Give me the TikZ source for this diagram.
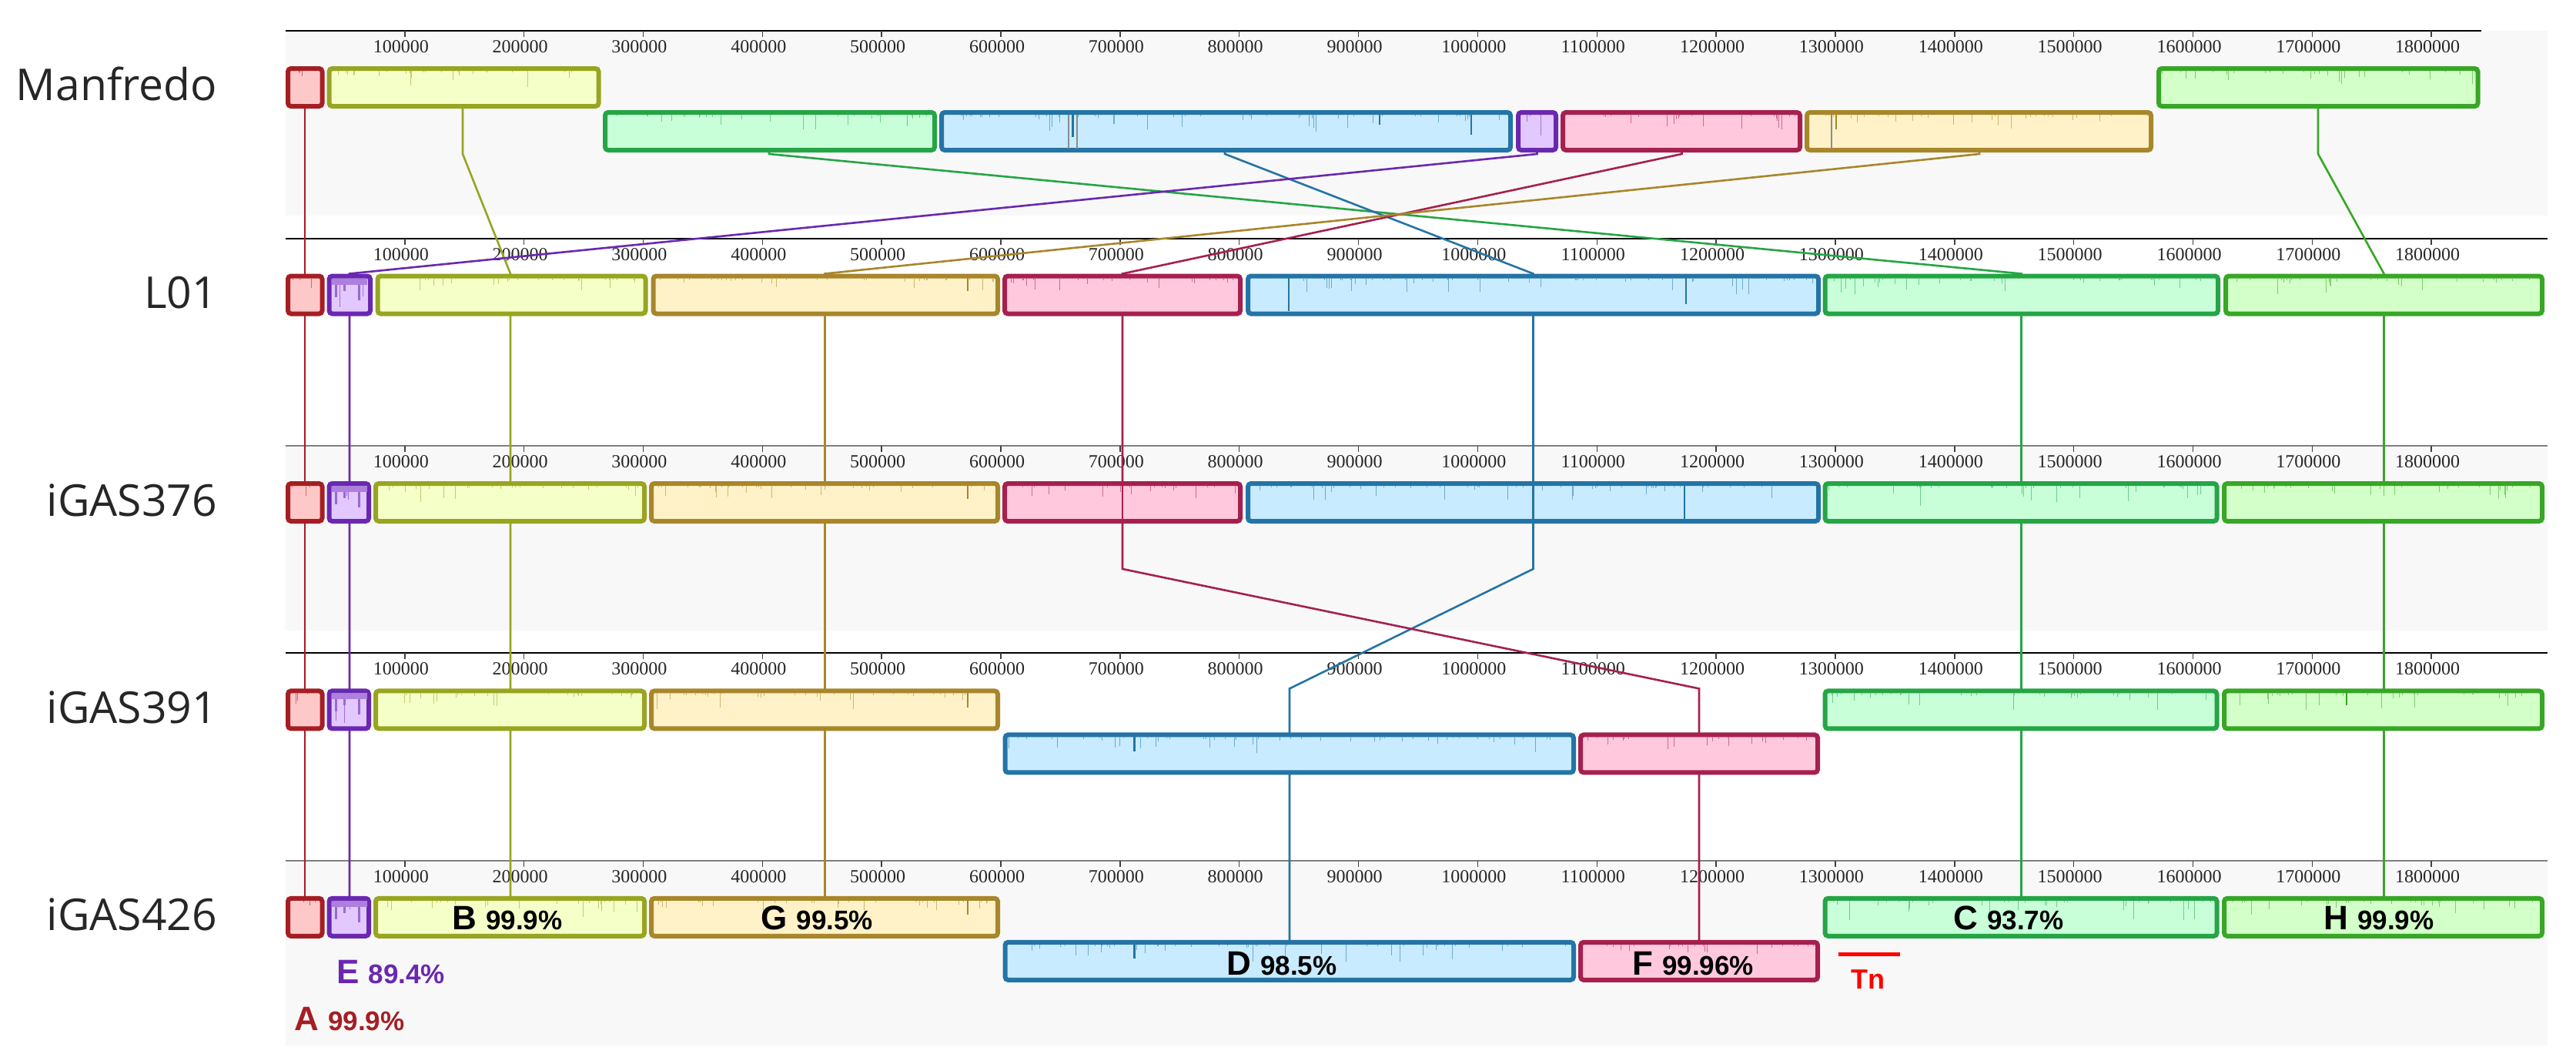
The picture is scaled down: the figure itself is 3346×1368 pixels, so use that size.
\documentclass[tikz,border=0pt]{standalone}
\usepackage{fontspec}
\setmainfont{Liberation Serif}
\newfontfamily\namefont{Open Sans}
\newfontfamily\labfont{Liberation Sans}
\definecolor{Abd}{HTML}{A51E23}\definecolor{Afl}{HTML}{FFC8C8}
\definecolor{Ebd}{HTML}{6A28B0}\definecolor{Efl}{HTML}{E2C8FF}
\definecolor{Bbd}{HTML}{97A521}\definecolor{Bfl}{HTML}{F5FFC8}
\definecolor{Gbd}{HTML}{A8862A}\definecolor{Gfl}{HTML}{FFF2C8}
\definecolor{Fbd}{HTML}{A5204F}\definecolor{Ffl}{HTML}{FFC8DC}
\definecolor{Dbd}{HTML}{2474A5}\definecolor{Dfl}{HTML}{C8EBFF}
\definecolor{Cbd}{HTML}{25A545}\definecolor{Cfl}{HTML}{C8FFD9}
\definecolor{Hbd}{HTML}{38A626}\definecolor{Hfl}{HTML}{D3FFC8}
\definecolor{panel}{HTML}{F8F8F8}
\definecolor{namecol}{HTML}{262626}
\definecolor{axgray}{HTML}{7F7F7F}
\newcommand\letf{\labfont\bfseries\fontsize{44}{44}\selectfont}
\newcommand\numf{\labfont\bfseries\fontsize{35}{35}\selectfont}
\newcommand\blockat[6]{%
  \pgfmathsetmacro\bw{#4-#3-6}%
  \pgfmathsetmacro\bcx{(#3+#4)/2}%
  \pgfmathsetmacro\bcy{#5+27.5}%
  \node[blk, draw=#2bd, fill=#2fl, minimum width=\bw pt, minimum height=49pt] (#1) at (\bcx,\bcy) {};
  \pgfmathtruncatemacro\nsp{(#4-#3)/14}%
  \foreach \k in {1,...,\nsp}{%
    \pgfmathsetmacro\sx{#3+7+rnd*(#4-#3-14)}%
    \pgfmathsetmacro\sl{2+rnd^4*#6}%
    \draw[#2bd!55!#2fl, line width=1pt] (\sx,#5+6) -- ++(0,\sl);
  }%
}
\newcommand\axisrow[4]{%
  \draw[#4, line width=2pt] (371,#2) -- (#3,#2);
  \foreach \k in {1,...,18}{%
    \pgfmathsetmacro\tx{370.9+\k*154.85}%
    \draw[black!75, line width=1.5pt] (\tx,#2) -- ++(0,8);
    \node[ticklab, anchor=base] (#1-\k) at (\tx-5,#2+28.5) {\k00000};
  }%
}
\begin{document}
\begin{tikzpicture}[x=1pt,y=-1pt,
  blk/.style={rectangle, rounded corners=4pt, line width=6pt, inner sep=0pt, outer sep=0pt},
  con/.style={line width=2.6pt},
  ticklab/.style={inner sep=0pt, font=\fontsize{24}{24}\selectfont, text=black!85},
  namelab/.style={inner sep=0pt, anchor=base east, text=namecol, font=\namefont\fontsize{57}{60}\selectfont},
  blklab/.style={inner sep=0pt, anchor=base west}]
\pgfmathsetseed{4242}
\useasboundingbox (0,0) rectangle (3346,1368);
\fill[white] (0,0) rectangle (3346,1368);
% panels
\fill[panel] (371,40) rectangle (3309,280);
\fill[panel] (371,579) rectangle (3309,819);
\fill[panel] (371,1117.8) rectangle (3309,1358);
% axes
\axisrow{am}{40}{3223}{black}
\axisrow{al}{309.5}{3309}{black}
\axisrow{as}{579}{3309}{axgray}
\axisrow{at}{848.4}{3309}{black}
\axisrow{au}{1117.8}{3309}{axgray}
% connector waypoints
\foreach \L/\xm/\xl/\xs/\xt/\xu/\ym/\yu in {
  A/396/396/396/396/396/90/1168,
  B/601/663/663/663/663/90/1168,
  C/999/2625.5/2625.5/2625.5/2625.5/148/1168,
  D/1591/1991.5/1991.5/1675/1675/148/1226,
  E/1996.5/454/454/454/454/148/1168,
  F/2184.5/1458/1458/2207/2207/148/1226,
  G/2571/1071.5/1071.5/1071.5/1071.5/148/1168,
  H/3011/3096.5/3096.5/3096.5/3096.5/90/1168}{
  \coordinate (m\L-t) at (\xm,\ym);
  \coordinate (m\L-b) at (\xm,200);
  \coordinate (l\L-t) at (\xl,355.5);
  \coordinate (l\L-b) at (\xl,469.5);
  \coordinate (s\L-t) at (\xs,625);
  \coordinate (s\L-b) at (\xs,739);
  \coordinate (t\L-t) at (\xt,894.4);
  \coordinate (t\L-b) at (\xt,1008.4);
  \coordinate (u\L-t) at (\xu,1163.8);
  \coordinate (u\L-e) at (\xu,\yu);
}
\foreach \L in {A,B,C,D,E,F,G,H}{
  \draw[con, \L bd] (m\L-t) -- (m\L-b) -- (l\L-t) -- (l\L-b) -- (s\L-t) -- (s\L-b)
     -- (t\L-t) -- (t\L-b) -- (u\L-t) -- (u\L-e);
}
% Manfredo blocks
\blockat{mA}{A}{371}{421.5}{86}{12}
\blockat{mB}{B}{424.5}{780.5}{86}{20}
\blockat{mH}{H}{2801}{3221.5}{86}{20}
\blockat{mC}{C}{783}{1217}{143}{25}
\blockat{mD}{D}{1220}{1965}{143}{20}
\blockat{mE}{E}{1969}{2024}{143}{30}
\blockat{mF}{F}{2027}{2341}{143}{20}
\blockat{mG}{G}{2344}{2797}{143}{20}
% L01 blocks
\blockat{lA}{A}{371}{421.5}{355.5}{12}
\blockat{lE}{E}{424.5}{484}{355.5}{38}
\blockat{lB}{B}{487.5}{841.5}{355.5}{20}
\blockat{lG}{G}{845.5}{1299}{355.5}{20}
\blockat{lF}{F}{1302}{1614}{355.5}{15}
\blockat{lD}{D}{1618}{2365}{355.5}{20}
\blockat{lC}{C}{2367.5}{2884}{355.5}{20}
\blockat{lH}{H}{2888}{3305}{355.5}{20}
% iGAS376 blocks
\blockat{sA}{A}{371}{421.5}{625}{12}
\blockat{sE}{E}{424.5}{482}{625}{38}
\blockat{sB}{B}{485}{840}{625}{20}
\blockat{sG}{G}{843}{1299}{625}{20}
\blockat{sF}{F}{1302}{1614}{625}{15}
\blockat{sD}{D}{1618}{2365}{625}{20}
\blockat{sC}{C}{2367.5}{2882.5}{625}{25}
\blockat{sH}{H}{2886}{3305}{625}{20}
% iGAS391 blocks
\blockat{tA}{A}{371}{421.5}{894.4}{12}
\blockat{tE}{E}{424.5}{482}{894.4}{38}
\blockat{tB}{B}{485}{840}{894.4}{20}
\blockat{tG}{G}{843}{1299}{894.4}{20}
\blockat{tC}{C}{2367.5}{2882.5}{894.4}{20}
\blockat{tH}{H}{2886}{3305}{894.4}{20}
\blockat{tD}{D}{1302.5}{2047}{951.4}{20}
\blockat{tF}{F}{2050}{2364}{951.4}{15}
% iGAS426 blocks
\blockat{uA}{A}{371}{421.5}{1163.8}{12}
\blockat{uE}{E}{424.5}{482}{1163.8}{38}
\blockat{uB}{B}{485}{840}{1163.8}{20}
\blockat{uG}{G}{843}{1299}{1163.8}{20}
\blockat{uC}{C}{2367.5}{2882.5}{1163.8}{25}
\blockat{uH}{H}{2886}{3305}{1163.8}{20}
\blockat{uD}{D}{1302.5}{2047}{1220.8}{20}
\blockat{uF}{F}{2050}{2364}{1220.8}{15}
% purple profile in E blocks
\foreach \yy in {355.5,625,894.4,1163.8}{
  \fill[Ebd!45!Efl] (431,\yy+6) rectangle (477,\yy+14);
  \draw[Ebd!60!Efl, line width=3pt] (436,\yy+14) -- (436,\yy+30) (447,\yy+14) -- (447,\yy+22) (466,\yy+14) -- (466,\yy+34);
}
% notable dips
\draw[black!45, line width=2pt] (1388,149) -- (1388,193) (1399,149) -- (1399,193);
\draw[Dbd, line width=3pt] (1393,149) -- (1393,178);
\draw[Dbd, line width=2pt] (1911,149) -- (1911,175) (1792,149) -- (1792,162);
\draw[black!45, line width=2pt] (2379,149) -- (2379,193);
\draw[Gbd, line width=2pt] (2385,149) -- (2385,168);
\draw[Dbd, line width=2pt] (1674,361) -- (1674,404) (2190,361) -- (2190,395);
\draw[Gbd, line width=2pt] (1257,361) -- (1257,378);
\draw[Dbd, line width=2pt] (2188,631) -- (2188,674);
\draw[Gbd, line width=2pt] (1257,631) -- (1257,648);
\draw[Dbd, line width=3pt] (1473,957) -- (1473,976);
\draw[Gbd, line width=2pt] (1257,900) -- (1257,919);
\draw[Hbd, line width=2pt] (3048,900) -- (3048,916);
\draw[Dbd, line width=3pt] (1473,1227) -- (1473,1245);
\draw[Gbd, line width=2pt] (1257,1170) -- (1257,1188);
% lines visible across iGAS376 blocks
\draw[con, Fbd] (sF-t) -- (sF-b);
\draw[con, Dbd] (sD-t) -- (sD-b);
% genome names
\node[namelab] (nm) at (282,130) {Manfredo};
\node[namelab] (nl) at (282,400.5) {L01};
\node[namelab] (ns) at (282,670) {iGAS376};
\node[namelab] (nt) at (282,939.4) {iGAS391};
\node[namelab] (nu) at (282,1208.8) {iGAS426};
% block labels
\node[blklab, text=Abd] (labA) at (382,1338) {\letf A \numf 99.9\%};
\node[blklab, text=Ebd] (labE) at (437,1277.7) {\letf E \numf 89.4\%};
\node[blklab] (labB) at (587,1207) {\letf B \numf 99.9\%};
\node[blklab] (labG) at (988,1207) {\letf G \numf 99.5\%};
\node[blklab] (labD) at (1593,1266) {\letf D \numf 98.5\%};
\node[blklab] (labF) at (2120,1266) {\letf F \numf 99.96\%};
\node[blklab] (labC) at (2537,1207) {\letf C \numf 93.7\%};
\node[blklab] (labH) at (3018,1207) {\letf H \numf 99.9\%};
% Tn marker
\coordinate (tn1) at (2388,1239);
\coordinate (tn2) at (2468,1239);
\draw[red, line width=5pt] (tn1) -- (tn2);
\node[inner sep=0pt, anchor=base, text=red, font=\labfont\bfseries\fontsize{36}{36}\selectfont] (tn) at (2426,1284) {Tn};
\end{tikzpicture}
\end{document}
